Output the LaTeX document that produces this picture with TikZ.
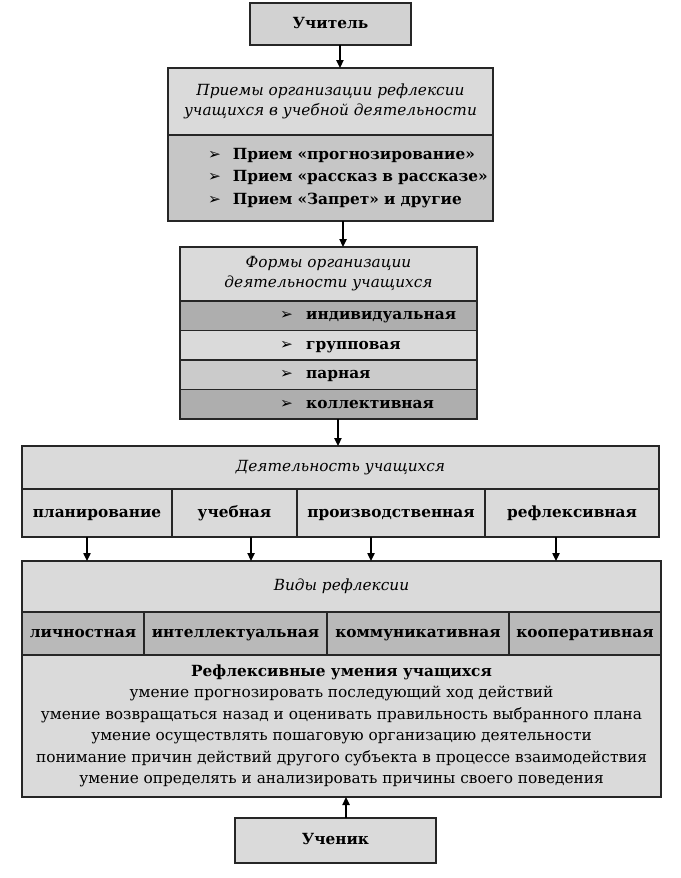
\documentclass[tikz,border=0pt]{standalone}
\usepackage{fontspec}
\setmainfont{DejaVu Serif}
\newfontfamily\dingfont{DejaVu Sans}
\usetikzlibrary{positioning,arrows.meta}
\definecolor{boxlight}{HTML}{DADADA}
\definecolor{boxtop}{HTML}{D2D2D2}
\definecolor{boxmid}{HTML}{C6C6C6}
\definecolor{boxpair}{HTML}{CBCBCB}
\definecolor{boxdark}{HTML}{AEAEAE}
\definecolor{boxkind}{HTML}{B9B9B9}
\newcommand{\itemarrow}{{\dingfont ➢}}
\newcommand{\formitem}[1]{\hspace*{75pt}\itemarrow\hspace{10pt}#1}
\newcommand{\methoditem}[1]{\hspace*{30pt}\itemarrow\hspace{9pt}#1}
\tikzset{
  cell/.style={draw=black!85,line width=1.1pt,fill=boxlight,inner sep=0pt,outer sep=0pt,
    align=center,font=\fontsize{11.5}{15}\selectfont},
  head/.style={cell,font=\fontsize{11.5}{15}\selectfont\itshape},
  item/.style={cell,font=\fontsize{11.5}{15}\selectfont\bfseries,text height=1.6ex,text depth=0.4ex},
  formrow/.style={item,text width=222.75pt,align=left,minimum height=22.125pt},
  flow/.style={-{Triangle[length=6pt,width=5.5pt]},line width=1pt},
}

\begin{document}
\begin{tikzpicture}[x=0.75pt,y=-0.75pt]
  \useasboundingbox (0,0) rectangle (681,878);
  \node[item,fill=boxtop,minimum width=120.75pt,minimum height=31.5pt] (teacher) at (330.5,24) {Учитель};
  \node[head,minimum width=243.75pt,minimum height=50.25pt] (methods) at (330.5,101.5)
    {Приемы организации рефлексии\\учащихся в учебной деятельности};
  \node[cell,fill=boxmid,text width=243.75pt,minimum height=64.5pt,align=left,
    font=\fontsize{11.5}{17}\selectfont\bfseries,below=0pt of methods] (methodlist)
    {\methoditem{Прием «прогнозирование»}\\
     \methoditem{Прием «рассказ в рассказе»}\\
     \methoditem{Прием «Запрет» и другие}};

  \node[head,minimum width=222.75pt,minimum height=40.5pt] (forms) at (328.5,274)
    {Формы организации\\деятельности учащихся};
  \node[formrow,fill=boxdark,below=0pt of forms] (individual) {\formitem{индивидуальная}};
  \node[formrow,below=0pt of individual] (group) {\formitem{групповая}};
  \node[formrow,fill=boxpair,below=0pt of group] (pair) {\formitem{парная}};
  \node[formrow,fill=boxdark,below=0pt of pair] (collective) {\formitem{коллективная}};

  \node[head,minimum width=477.75pt,minimum height=32.25pt] (activity) at (340.5,467.5) {Деятельность учащихся};
  \node[item,minimum width=112.5pt,minimum height=36pt,anchor=north west] (planning) at (activity.south west) {планирование};
  \node[item,minimum width=93.75pt,minimum height=36pt,right=0pt of planning] (study) {учебная};
  \node[item,minimum width=141pt,minimum height=36pt,right=0pt of study] (production) {производственная};
  \node[item,minimum width=130.5pt,minimum height=36pt,right=0pt of production] (reflexive) {рефлексивная};

  \node[head,minimum width=479.25pt,minimum height=38.25pt] (kinds) at (341.5,586.5) {Виды рефлексии};
  \node[item,fill=boxkind,minimum width=91.5pt,minimum height=32.25pt,anchor=north west] (personal) at (kinds.south west) {личностная};
  \node[item,fill=boxkind,minimum width=137.25pt,minimum height=32.25pt,right=0pt of personal] (intellectual) {интеллектуальная};
  \node[item,fill=boxkind,minimum width=136.5pt,minimum height=32.25pt,right=0pt of intellectual] (communicative) {коммуникативная};
  \node[item,fill=boxkind,minimum width=114pt,minimum height=32.25pt,right=0pt of communicative] (cooperative) {кооперативная};
  \node[cell,minimum width=479.25pt,minimum height=106.5pt,anchor=north west,
    font=\fontsize{11.5}{16.1}\selectfont] (skills) at (personal.south west)
    {\textbf{Рефлексивные умения учащихся}\\
     умение прогнозировать последующий ход действий\\
     умение возвращаться назад и оценивать правильность выбранного плана\\
     умение осуществлять пошаговую организацию деятельности\\
     понимание причин действий другого субъекта в процессе взаимодействия\\
     умение определять и анализировать причины своего поведения};

  \node[item,minimum width=150.75pt,minimum height=33.75pt] (student) at (335.5,840.5) {Ученик};

  \draw[flow] ([xshift=7.1pt]teacher.south) -- ([xshift=7.1pt]teacher.south |- methods.north);
  \draw[flow] ([xshift=9.4pt]methodlist.south) -- ([xshift=9.4pt]methodlist.south |- forms.north);
  \draw[flow] ([xshift=7.1pt]collective.south) -- ([xshift=7.1pt]collective.south |- activity.north);
  \draw[flow] ([xshift=-7.5pt]planning.south) -- ([xshift=-7.5pt]planning.south |- kinds.north);
  \draw[flow] ([xshift=12.4pt]study.south) -- ([xshift=12.4pt]study.south |- kinds.north);
  \draw[flow] ([xshift=-15pt]production.south) -- ([xshift=-15pt]production.south |- kinds.north);
  \draw[flow] ([xshift=-12pt]reflexive.south) -- ([xshift=-12pt]reflexive.south |- kinds.north);
  \draw[flow] ([xshift=7.9pt]student.north) -- ([xshift=7.9pt]student.north |- skills.south);
\end{tikzpicture}
\end{document}
